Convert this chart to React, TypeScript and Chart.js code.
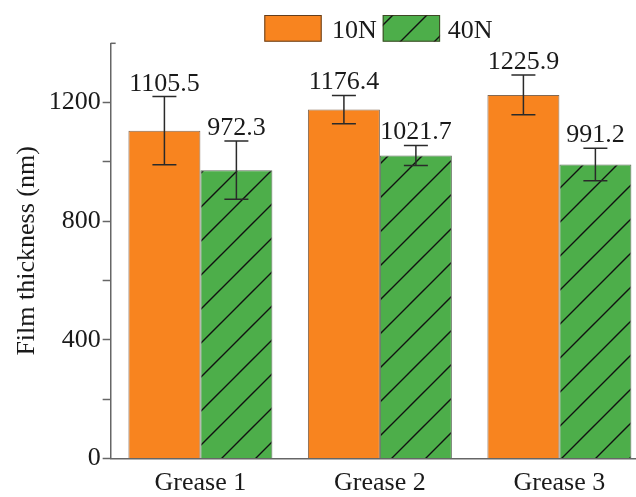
import React, { useEffect, useRef } from 'react';
import { Chart, registerables } from 'chart.js';

Chart.register(...registerables);

const categories = ['Grease 1', 'Grease 2', 'Grease 3'];
const seriesNames = ['10N', '40N'];
const values10N = [1105.5, 1176.4, 1225.9];
const values40N = [972.3, 1021.7, 991.2];
const errors10N = [115, 48, 67];
const errors40N = [98, 34, 55];
const yMajorTicks = [0, 400, 800, 1200];
const yMin = 0;
const yMax = 1400;
const yStep = 200;

const ORANGE = '#F8841F';
const GREEN = '#4DAE4A';
const AXIS = '#666666';
const TEXT = '#1a1a1a';
const FONT_FAMILY = '"Liberation Serif", "Times New Roman", serif';

function makeHatch(): CanvasPattern | string {
  const s = 34;
  const c = document.createElement('canvas');
  c.width = s;
  c.height = s;
  const g = c.getContext('2d');
  if (!g) return GREEN;
  g.fillStyle = GREEN;
  g.fillRect(0, 0, s, s);
  g.strokeStyle = '#111111';
  g.lineWidth = 1.4;
  g.beginPath();
  g.moveTo(-2, s + 2);
  g.lineTo(s + 2, -2);
  g.moveTo(-2, 2);
  g.lineTo(2, -2);
  g.moveTo(s - 2, s + 2);
  g.lineTo(s + 2, s - 2);
  g.stroke();
  return g.createPattern(c, 'repeat') || GREEN;
}

export default function App() {
  const ref = useRef<HTMLCanvasElement | null>(null);

  useEffect(() => {
    if (!ref.current) return;
    const hatch = makeHatch();
    const errs = [errors10N, errors40N];

    const overlay = {
      id: 'overlay',
      afterDatasetsDraw(chart: any) {
        const ctx = chart.ctx as CanvasRenderingContext2D;
        const ys = chart.scales.y;
        chart.data.datasets.forEach((ds: any, di: number) => {
          const meta = chart.getDatasetMeta(di);
          meta.data.forEach((bar: any, i: number) => {
            const v = ds.data[i] as number;
            const e = errs[di][i];
            const x = bar.x;
            const yt = ys.getPixelForValue(v + e);
            const yb = ys.getPixelForValue(v - e);
            ctx.save();
            ctx.strokeStyle = '#2a2a2a';
            ctx.lineWidth = 1.5;
            ctx.beginPath();
            ctx.moveTo(x, yt);
            ctx.lineTo(x, yb);
            ctx.moveTo(x - 12, yt);
            ctx.lineTo(x + 12, yt);
            ctx.moveTo(x - 12, yb);
            ctx.lineTo(x + 12, yb);
            ctx.stroke();
            ctx.font = `26px ${FONT_FAMILY}`;
            ctx.fillStyle = TEXT;
            ctx.textAlign = 'center';
            ctx.textBaseline = 'alphabetic';
            ctx.fillText(v.toFixed(1), x, yt - 6);
            ctx.restore();
          });
        });
      },
      afterDraw(chart: any) {
        const ctx = chart.ctx as CanvasRenderingContext2D;
        const area = chart.chartArea;
        ctx.save();
        // small inward tick at top of the y axis
        ctx.strokeStyle = AXIS;
        ctx.lineWidth = 1.5;
        ctx.beginPath();
        ctx.moveTo(area.left, area.top);
        ctx.lineTo(area.left + 5, area.top);
        ctx.stroke();
        // legend
        const fills = [ORANGE, hatch];
        const boxes = [264.3, 382.7];
        const texts = [332, 447.7];
        seriesNames.forEach((name, i) => {
          ctx.fillStyle = fills[i] as any;
          ctx.fillRect(boxes[i], 15, 57.4, 26.7);
          ctx.strokeStyle = 'rgba(60,45,30,0.8)';
          ctx.lineWidth = 1;
          ctx.strokeRect(boxes[i] + 0.5, 15.5, 56.4, 25.7);
          ctx.fillStyle = TEXT;
          ctx.font = `26px ${FONT_FAMILY}`;
          ctx.textAlign = 'left';
          ctx.textBaseline = 'alphabetic';
          ctx.fillText(name, texts[i], 38.3);
        });
        ctx.restore();
      },
    };

    const font = { family: FONT_FAMILY, size: 26 };

    const chart = new Chart(ref.current, {
      type: 'bar',
      data: {
        labels: categories,
        datasets: [
          {
            label: seriesNames[0],
            data: values10N,
            backgroundColor: ORANGE,
            borderColor: 'rgba(90,55,25,0.75)',
            borderWidth: 1,
            categoryPercentage: 0.802,
            barPercentage: 1,
          },
          {
            label: seriesNames[1],
            data: values40N,
            backgroundColor: hatch as any,
            borderColor: 'rgba(40,60,35,0.75)',
            borderWidth: 1,
            categoryPercentage: 0.802,
            barPercentage: 1,
          },
        ],
      },
      options: {
        responsive: false,
        animation: false,
        devicePixelRatio: 1,
        layout: { padding: { left: 0, right: 10.85, top: 43.3, bottom: 0 } },
        plugins: {
          legend: { display: false },
          tooltip: { enabled: false },
        },
        scales: {
          x: {
            type: 'category',
            grid: { display: false, drawOnChartArea: false, drawTicks: false },
            border: { display: true, color: AXIS, width: 1.5 },
            ticks: { color: TEXT, font, padding: 9 },
            afterFit: (s: any) => {
              s.height = 38.5;
            },
          },
          y: {
            min: yMin,
            max: yMax,
            ticks: {
              stepSize: yStep,
              color: TEXT,
              font,
              padding: 2,
              callback: (v: any) => (yMajorTicks.includes(Number(v)) ? String(v) : ''),
            },
            grid: {
              drawOnChartArea: false,
              drawTicks: true,
              tickLength: 8,
              tickWidth: 1.5,
              tickColor: (c: any) => (c.tick && c.tick.value === yMax ? 'rgba(0,0,0,0)' : AXIS),
            },
            border: { display: true, color: AXIS, width: 1.5 },
            title: {
              display: true,
              text: 'Film thickness (nm)',
              color: TEXT,
              font,
              padding: { top: 12, bottom: 0 },
            },
            afterFit: (s: any) => {
              s.width = 110.65;
            },
          },
        },
      } as any,
      plugins: [overlay],
    });

    return () => chart.destroy();
  }, []);

  return (
    <div
      style={{
        position: 'fixed',
        left: 0,
        top: 0,
        width: 636,
        height: 497,
        overflow: 'hidden',
        background: '#ffffff',
      }}
    >
      <canvas ref={ref} width={660} height={497} style={{ display: 'block' }} />
    </div>
  );
}
